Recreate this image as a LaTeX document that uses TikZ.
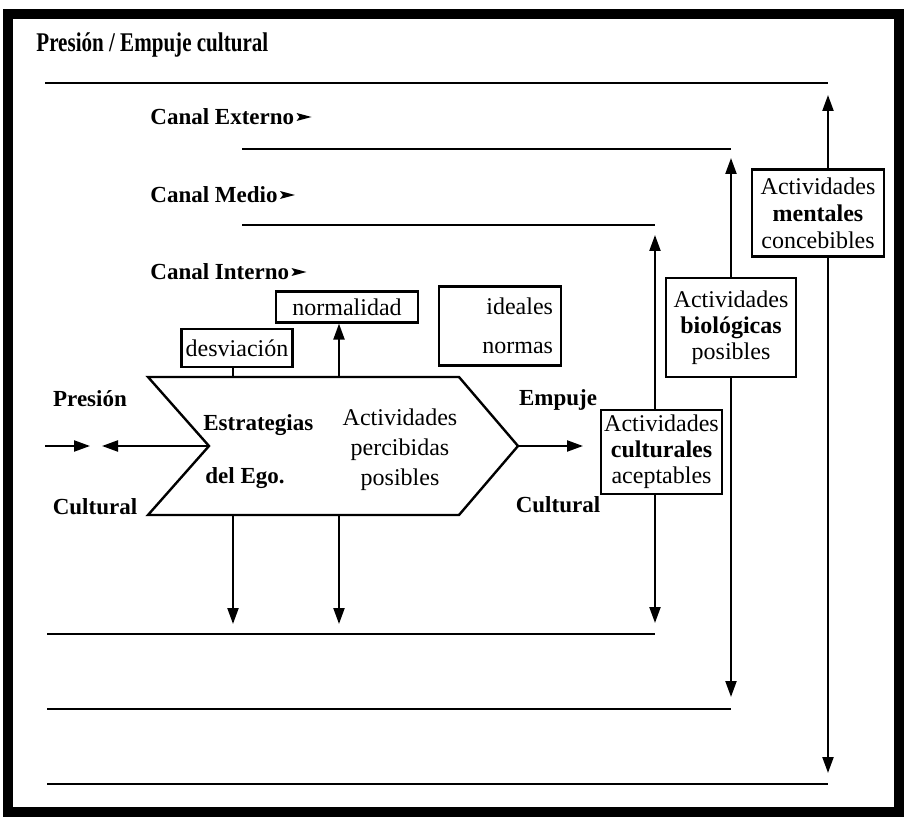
\documentclass[tikz,border=0pt]{standalone}
\usepackage{fontspec}
\setmainfont{Liberation Serif}
\newfontfamily\titlefont[FakeStretch=0.78]{Liberation Serif}
\usetikzlibrary{arrows.meta}
\tikzstyle{mybox} = [draw=black, fill=white, line width=1.1pt,
    rectangle, inner sep=1pt, align=center, font=\fontsize{12}{13}\selectfont]
\tikzstyle{boldlabel} = [inner sep=0pt, font=\fontsize{11.5}{13}\selectfont\bfseries]
\tikzstyle{plaintext} = [inner sep=0pt, align=center, font=\fontsize{12}{15}\selectfont]
\tikzstyle{channel} = [line width=1.2pt]
\tikzstyle{arr} = [line width=1.1pt, -{Triangle[length=8pt,width=5.5pt]}]
\tikzstyle{dblarr} = [line width=1.1pt, {Triangle[length=8pt,width=5.5pt]}-{Triangle[length=8pt,width=5.5pt]}]

\begin{document}
\begin{tikzpicture}[x=0.5pt, y=-0.5pt]
                \useasboundingbox (0,0) rectangle (906,818);
                \fill[white] (0,0) rectangle (906,818);
                \draw[line width=5pt] (8,14) rectangle (899,812);
                \node[boldlabel, anchor=west, font=\titlefont\fontsize{13.5}{15}\selectfont\bfseries] (title) at (36,45) {Presión / Empuje cultural};
                % canales
                \node[boldlabel, anchor=west] (ext) at (150,117) {Canal Externo};
                \node[boldlabel, anchor=west] (med) at (150,195) {Canal Medio};
                \node[boldlabel, anchor=west] (int) at (150,272) {Canal Interno};
                \foreach \c in {ext,med,int}
                    \fill ([xshift=1pt]\c.east) ++(0,-4) -- ++(15,4) -- ++(-15,4) -- ++(3,-4) -- cycle;
                \draw[channel] (45,83) -- (828,83);
                \draw[channel] (242,149) -- (731,149);
                \draw[channel] (242,225) -- (655,225);
                \draw[channel] (47,634) -- (655,634);
                \draw[channel] (47,709) -- (731,709);
                \draw[channel] (47,784) -- (828,784);
                % flecha del ego
                \coordinate (ptl) at (148,377);
                \coordinate (pbl) at (148,515);
                \coordinate (notch) at (209,446);
                \coordinate (tip) at (518,446);
                \draw[line width=1.2pt] (ptl) -- (459,377) -- (tip) -- (459,515) -- (pbl) -- (notch) -- cycle;
                \node[plaintext, font=\fontsize{11.5}{13}\selectfont\bfseries, anchor=west] (estr) at (203,425) {Estrategias};
                \node[plaintext, font=\fontsize{11.5}{13}\selectfont\bfseries, anchor=west] (ego) at (205,478) {del Ego.};
                \node[plaintext] (perc) at (400,450) {Actividades\\percibidas\\posibles};
                % normas
                \node[mybox, minimum width=55.5pt, minimum height=19pt] (desv) at (237,348) {desviación};
                \node[mybox, minimum width=71pt, minimum height=15.5pt] (norm) at (347,307) {normalidad};
                \node[mybox, text width=53pt, minimum height=39.5pt, align=right, inner xsep=4pt,
                    font=\fontsize{12}{19.5}\selectfont] (ideal) at (500,326) {ideales\\normas};
                \coordinate (d0) at (233,377);
                \coordinate (n0) at (339,377);
                \draw[line width=1.1pt] (d0 |- desv.south) -- (d0);
                \draw[arr] (n0) -- (n0 |- norm.south);
                \draw[arr] (d0 |- pbl) -- (233,624);
                \draw[arr] (n0 |- pbl) -- (339,624);
                % presion y empuje
                \node[boldlabel] (pres) at (90,399) {Presión};
                \node[boldlabel] (cultl) at (95,507) {Cultural};
                \node[boldlabel] (emp) at (558,400) {Empuje};
                \node[boldlabel] (cultr) at (558,505) {Cultural};
                \coordinate (in0) at (45,446);
                \draw[arr] (in0) -- (90,446);
                \draw[arr] (notch) -- (102,446);
                \draw[arr] (tip) -- (583,446);
                % actividades
                \draw[dblarr] (655,235) -- (655,623);
                \draw[dblarr] (731,158) -- (731,697);
                \draw[dblarr] (828,95) -- (828,773);
                \node[mybox, minimum width=60.5pt, minimum height=42pt] (cult) at (661.5,452) {Actividades\\\textbf{culturales}\\aceptables};
                \node[mybox, minimum width=65pt, minimum height=49.5pt] (bio) at (731,327.5) {Actividades\\\textbf{biológicas}\\posibles};
                \node[mybox, minimum width=66pt, minimum height=43.5pt, font=\fontsize{12}{13.5}\selectfont] (ment) at (818,213) {Actividades\\\textbf{mentales}\\concebibles};
            \end{tikzpicture}
\end{document}
